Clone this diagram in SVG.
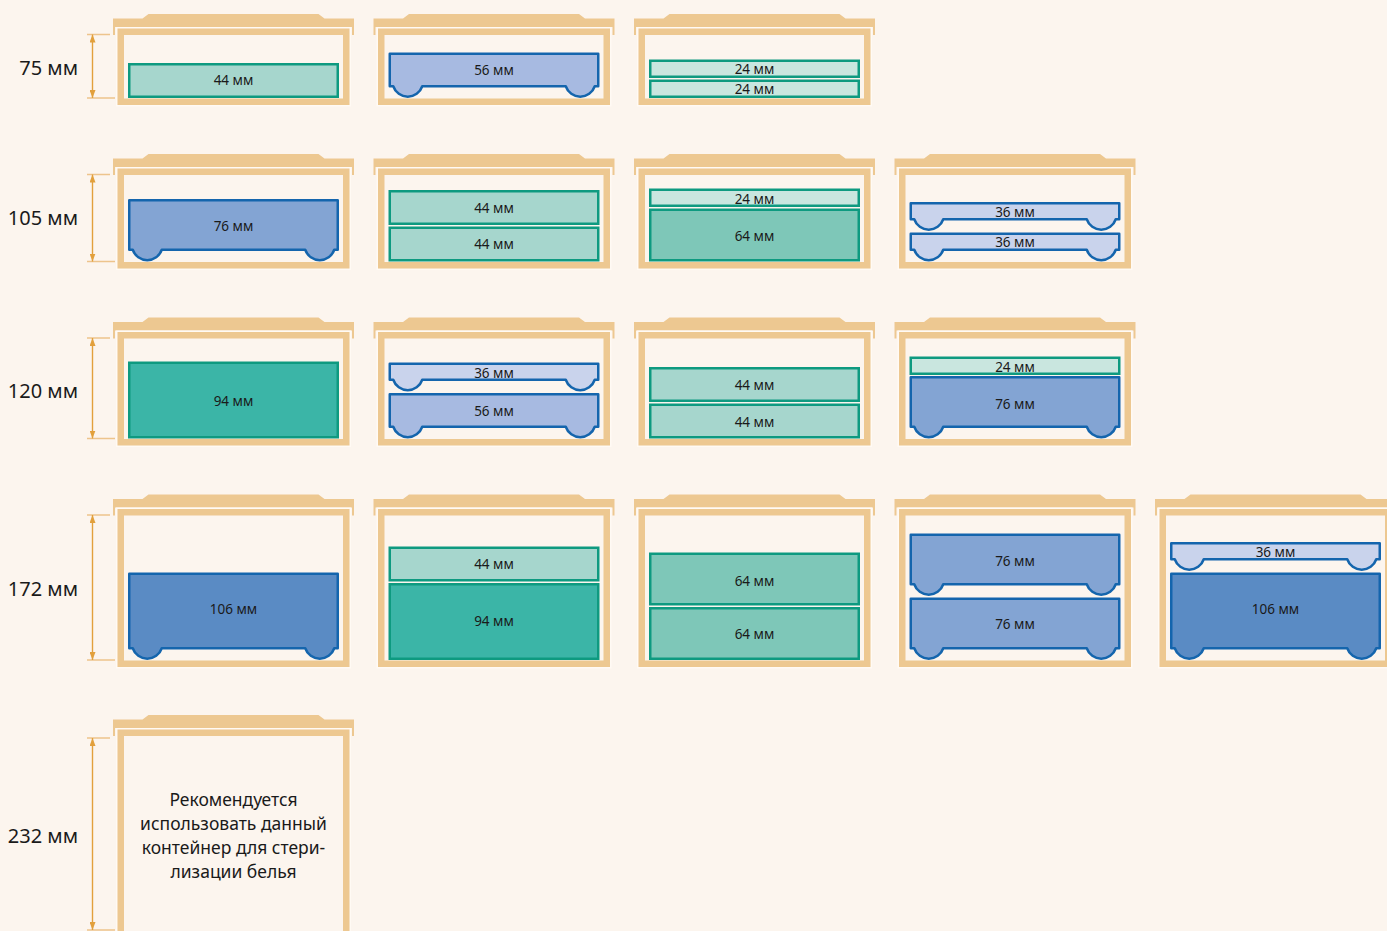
<svg xmlns="http://www.w3.org/2000/svg" xmlns:xlink="http://www.w3.org/1999/xlink" width="1387" height="931" viewBox="0 0 1387 931">
<style>
.bg{fill:#fcf5ee}
.lid{fill:#edc891}
.box{fill:none;stroke:#edc891;stroke-width:6.5}
.sep{fill:none;stroke:#fffaf4;stroke-width:1.5}
.ft{stroke:#0e9a80;stroke-width:2.5}
.fb{stroke:#1465ad;stroke-width:2.5;stroke-linejoin:round}
.t24{fill:#c9e6df}.t44{fill:#a6d6cd}.t64{fill:#7ec7b8}.t94{fill:#3bb5a7}
.b36{fill:#c9d3ec}.b56{fill:#a7bae1}.b76{fill:#83a4d3}.b106{fill:#5a8bc4}
.lbl{font-family:"Noto Sans","DejaVu Sans",sans-serif;font-size:13.5px;fill:#1a1a1a;text-anchor:middle}
.dimt{font-family:"Noto Sans","DejaVu Sans",sans-serif;font-size:20px;fill:#1a1a1a;text-anchor:end}
.note{font-family:"Noto Sans","DejaVu Sans",sans-serif;font-size:17.5px;fill:#1a1a1a;text-anchor:middle}
.dim{stroke:#e2a03c;stroke-width:1.4;fill:none;marker-start:url(#arr);marker-end:url(#arr)}
.tick{stroke:#edc48c;stroke-width:1.4;fill:none}
</style>
<defs>
<marker id="arr" viewBox="0 0 8 6" refX="8" refY="3" markerWidth="8" markerHeight="6" markerUnits="userSpaceOnUse" orient="auto-start-reverse"><path d="M0 0 L8 3 L0 6 Z" fill="#e2a03c"/></marker>
<path id="lidp" d="M-4.5 4.5 H25 L31 0 H201 L207 4.5 H236.5 V21 H234.5 V13 H-2.5 V21 H-4.5 Z"/>
<path id="f36" d="M0 0 h208.5 v16 h-3.5 a15.3 15.3 0 0 1 -29 0 h-143.5 a15.3 15.3 0 0 1 -29 0 h-3.5 z"/>
<path id="f56" d="M0 0 h208.5 v32.5 h-3.5 a15.3 15.3 0 0 1 -29 0 h-143.5 a15.3 15.3 0 0 1 -29 0 h-3.5 z"/>
<path id="f76" d="M0 0 h208.5 v49.5 h-3.5 a15.3 15.3 0 0 1 -29 0 h-143.5 a15.3 15.3 0 0 1 -29 0 h-3.5 z"/>
<path id="f106" d="M0 0 h208.5 v74.5 h-3.5 a15.3 15.3 0 0 1 -29 0 h-143.5 a15.3 15.3 0 0 1 -29 0 h-3.5 z"/>
</defs>
<rect class="bg" x="0" y="0" width="1387" height="931"/>

<!-- height labels -->
<g id="height-labels">
<text class="dimt" x="78" y="75">75 мм</text>
<text class="dimt" x="78" y="225">105 мм</text>
<text class="dimt" x="78" y="398">120 мм</text>
<text class="dimt" x="78" y="596">172 мм</text>
<text class="dimt" x="78" y="843">232 мм</text>
</g>

<!-- dimension connectors -->
<g id="connectors">
<path class="tick" d="M87 34.5 H110 M87 98 H115"/>
<path class="dim" d="M92.5 34.5 V98"/>
<path class="tick" d="M87 174.5 H110 M87 261.5 H115"/>
<path class="dim" d="M92.5 174.5 V261.5"/>
<path class="tick" d="M87 338 H110 M87 438.5 H115"/>
<path class="dim" d="M92.5 338 V438.5"/>
<path class="tick" d="M87 515 H110 M87 660 H115"/>
<path class="dim" d="M92.5 515 V660"/>
<path class="tick" d="M87 738 H110 M87 930 H115"/>
<path class="dim" d="M92.5 738 V930"/>
</g>

<!-- Row 1: 75 mm -->
<g id="r1c1">
<use href="#lidp" class="lid" transform="translate(117.5 14)"/>
<rect class="sep" x="116.75" y="27.75" width="233.5" height="78"/>
<rect class="box" x="120.75" y="31.75" width="225.5" height="70"/>
<rect class="t44 ft" x="129.25" y="64.25" width="208.5" height="32.5"/>
<text class="lbl" x="233.5" y="85.3">44 мм</text>
</g>
<g id="r1c2">
<use href="#lidp" class="lid" transform="translate(378 14)"/>
<rect class="sep" x="377.25" y="27.75" width="233.5" height="78"/>
<rect class="box" x="381.25" y="31.75" width="225.5" height="70"/>
<use href="#f56" class="b56 fb" x="389.75" y="53.75"/>
<text class="lbl" x="494" y="74.8">56 мм</text>
</g>
<g id="r1c3">
<use href="#lidp" class="lid" transform="translate(638.5 14)"/>
<rect class="sep" x="637.75" y="27.75" width="233.5" height="78"/>
<rect class="box" x="641.75" y="31.75" width="225.5" height="70"/>
<rect class="t24 ft" x="650.25" y="60.75" width="208.5" height="16"/>
<rect class="t24 ft" x="650.25" y="80.75" width="208.5" height="16"/>
<text class="lbl" x="754.5" y="73.8">24 мм</text>
<text class="lbl" x="754.5" y="93.8">24 мм</text>
</g>

<!-- Row 2: 105 mm -->
<g id="r2c1">
<use href="#lidp" class="lid" transform="translate(117.5 154)"/>
<rect class="sep" x="116.75" y="167.75" width="233.5" height="101.5"/>
<rect class="box" x="120.75" y="171.75" width="225.5" height="93.5"/>
<use href="#f76" class="b76 fb" x="129.25" y="200.25"/>
<text class="lbl" x="233.5" y="230.8">76 мм</text>
</g>
<g id="r2c2">
<use href="#lidp" class="lid" transform="translate(378 154)"/>
<rect class="sep" x="377.25" y="167.75" width="233.5" height="101.5"/>
<rect class="box" x="381.25" y="171.75" width="225.5" height="93.5"/>
<rect class="t44 ft" x="389.75" y="191.25" width="208.5" height="32.5"/>
<rect class="t44 ft" x="389.75" y="227.75" width="208.5" height="32.5"/>
<text class="lbl" x="494" y="212.8">44 мм</text>
<text class="lbl" x="494" y="249.3">44 мм</text>
</g>
<g id="r2c3">
<use href="#lidp" class="lid" transform="translate(638.5 154)"/>
<rect class="sep" x="637.75" y="167.75" width="233.5" height="101.5"/>
<rect class="box" x="641.75" y="171.75" width="225.5" height="93.5"/>
<rect class="t24 ft" x="650.25" y="189.75" width="208.5" height="16"/>
<rect class="t64 ft" x="650.25" y="209.75" width="208.5" height="50.5"/>
<text class="lbl" x="754.5" y="203.5">24 мм</text>
<text class="lbl" x="754.5" y="240.8">64 мм</text>
</g>
<g id="r2c4">
<use href="#lidp" class="lid" transform="translate(899 154)"/>
<rect class="sep" x="898.25" y="167.75" width="233.5" height="101.5"/>
<rect class="box" x="902.25" y="171.75" width="225.5" height="93.5"/>
<use href="#f36" class="b36 fb" x="910.75" y="203.25"/>
<use href="#f36" class="b36 fb" x="910.75" y="233.75"/>
<text class="lbl" x="1015" y="216.8">36 мм</text>
<text class="lbl" x="1015" y="247.3">36 мм</text>
</g>

<!-- Row 3: 120 mm -->
<g id="r3c1">
<use href="#lidp" class="lid" transform="translate(117.5 317.5)"/>
<rect class="sep" x="116.75" y="331.25" width="233.5" height="115"/>
<rect class="box" x="120.75" y="335.25" width="225.5" height="107"/>
<rect class="t94 ft" x="129.25" y="362.75" width="208.5" height="74.5"/>
<text class="lbl" x="233.5" y="405.8">94 мм</text>
</g>
<g id="r3c2">
<use href="#lidp" class="lid" transform="translate(378 317.5)"/>
<rect class="sep" x="377.25" y="331.25" width="233.5" height="115"/>
<rect class="box" x="381.25" y="335.25" width="225.5" height="107"/>
<use href="#f36" class="b36 fb" x="389.75" y="363.75"/>
<use href="#f56" class="b56 fb" x="389.75" y="394.25"/>
<text class="lbl" x="494" y="377.8">36 мм</text>
<text class="lbl" x="494" y="416.3">56 мм</text>
</g>
<g id="r3c3">
<use href="#lidp" class="lid" transform="translate(638.5 317.5)"/>
<rect class="sep" x="637.75" y="331.25" width="233.5" height="115"/>
<rect class="box" x="641.75" y="335.25" width="225.5" height="107"/>
<rect class="t44 ft" x="650.25" y="368.25" width="208.5" height="32.5"/>
<rect class="t44 ft" x="650.25" y="404.75" width="208.5" height="32.5"/>
<text class="lbl" x="754.5" y="389.8">44 мм</text>
<text class="lbl" x="754.5" y="426.8">44 мм</text>
</g>
<g id="r3c4">
<use href="#lidp" class="lid" transform="translate(899 317.5)"/>
<rect class="sep" x="898.25" y="331.25" width="233.5" height="115"/>
<rect class="box" x="902.25" y="335.25" width="225.5" height="107"/>
<rect class="t24 ft" x="910.75" y="357.75" width="208.5" height="16"/>
<use href="#f76" class="b76 fb" x="910.75" y="377.25"/>
<text class="lbl" x="1015" y="371.8">24 мм</text>
<text class="lbl" x="1015" y="409">76 мм</text>
</g>

<!-- Row 4: 172 mm -->
<g id="r4c1">
<use href="#lidp" class="lid" transform="translate(117.5 494.5)"/>
<rect class="sep" x="116.75" y="508.25" width="233.5" height="159.5"/>
<rect class="box" x="120.75" y="512.25" width="225.5" height="151.5"/>
<use href="#f106" class="b106 fb" x="129.25" y="573.75"/>
<text class="lbl" x="233.5" y="614">106 мм</text>
</g>
<g id="r4c2">
<use href="#lidp" class="lid" transform="translate(378 494.5)"/>
<rect class="sep" x="377.25" y="508.25" width="233.5" height="159.5"/>
<rect class="box" x="381.25" y="512.25" width="225.5" height="151.5"/>
<rect class="t44 ft" x="389.75" y="547.75" width="208.5" height="32.5"/>
<rect class="t94 ft" x="389.75" y="584.25" width="208.5" height="74.5"/>
<text class="lbl" x="494" y="568.8">44 мм</text>
<text class="lbl" x="494" y="626">94 мм</text>
</g>
<g id="r4c3">
<use href="#lidp" class="lid" transform="translate(638.5 494.5)"/>
<rect class="sep" x="637.75" y="508.25" width="233.5" height="159.5"/>
<rect class="box" x="641.75" y="512.25" width="225.5" height="151.5"/>
<rect class="t64 ft" x="650.25" y="553.75" width="208.5" height="50.5"/>
<rect class="t64 ft" x="650.25" y="608.25" width="208.5" height="50.5"/>
<text class="lbl" x="754.5" y="585.5">64 мм</text>
<text class="lbl" x="754.5" y="638.5">64 мм</text>
</g>
<g id="r4c4">
<use href="#lidp" class="lid" transform="translate(899 494.5)"/>
<rect class="sep" x="898.25" y="508.25" width="233.5" height="159.5"/>
<rect class="box" x="902.25" y="512.25" width="225.5" height="151.5"/>
<use href="#f76" class="b76 fb" x="910.75" y="534.75"/>
<use href="#f76" class="b76 fb" x="910.75" y="598.75"/>
<text class="lbl" x="1015" y="565.5">76 мм</text>
<text class="lbl" x="1015" y="628.8">76 мм</text>
</g>
<g id="r4c5">
<use href="#lidp" class="lid" transform="translate(1159.5 494.5)"/>
<rect class="sep" x="1158.75" y="508.25" width="233.5" height="159.5"/>
<rect class="box" x="1162.75" y="512.25" width="225.5" height="151.5"/>
<use href="#f36" class="b36 fb" x="1171.25" y="543.25"/>
<use href="#f106" class="b106 fb" x="1171.25" y="573.75"/>
<text class="lbl" x="1275.5" y="556.8">36 мм</text>
<text class="lbl" x="1275.5" y="614">106 мм</text>
</g>

<!-- Row 5: 232 mm -->
<g id="r5c1">
<use href="#lidp" class="lid" transform="translate(117.5 715)"/>
<rect class="sep" x="116.75" y="728.75" width="233.5" height="210"/>
<rect class="box" x="120.75" y="732.75" width="225.5" height="202"/>
<text class="note" x="233.5" y="805.5">Рекомендуется</text>
<text class="note" x="233.5" y="829.5">использовать данный</text>
<text class="note" x="233.5" y="853.5">контейнер для стери-</text>
<text class="note" x="233.5" y="877.5">лизации белья</text>
</g>
</svg>
